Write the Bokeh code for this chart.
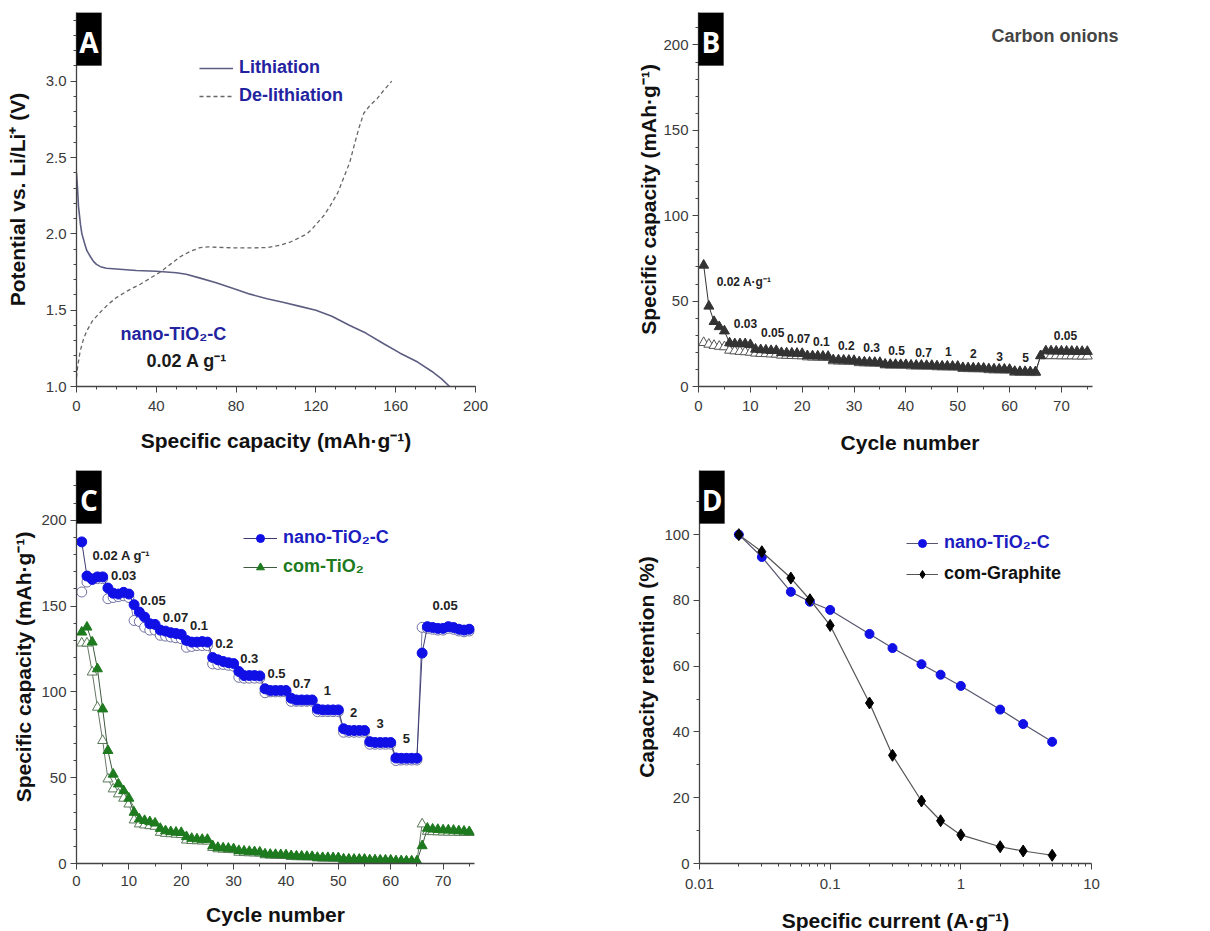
from bokeh.plotting import figure
from bokeh.layouts import column, row
from bokeh.models import (Range1d, SingleIntervalTicker, FixedTicker, NumeralTickFormatter,
                          CustomJSTickFormatter, Label, BoxAnnotation, Legend, LegendItem)
from bokeh.core.properties import value
from bokeh.embed import file_html
from bokeh.resources import INLINE
import math

FONT = "Liberation Sans"

# ---------------- Panel A: voltage profiles ----------------
li_cap = [0, 0.5, 1, 2, 2.7, 4, 5.2, 7, 8.5, 10, 12, 15, 20, 25, 30, 40, 50, 55, 62, 70, 79, 87,
          95.5, 104, 112, 120, 128, 137, 145, 154, 162, 171, 178, 183, 187]
li_v = [2.40, 2.30, 2.18, 2.06, 2.00, 1.94, 1.89, 1.85, 1.82, 1.80, 1.785, 1.775, 1.77, 1.765, 1.76,
        1.755, 1.745, 1.735, 1.71, 1.68, 1.64, 1.605, 1.575, 1.55, 1.525, 1.50, 1.46, 1.40, 1.35,
        1.28, 1.22, 1.16, 1.10, 1.05, 1.0]
de_cap = [0, 0.5, 1.8, 3.5, 5.2, 8, 11.9, 16, 20.2, 26, 32, 37, 42, 47, 52, 57, 62, 66, 70.4, 78.8,
          87, 95.5, 102, 107, 111, 115.5, 118, 120.6, 124, 127, 131, 134, 137, 139, 141.5, 144, 147,
          150.7, 154, 158]
de_v = [1.06, 1.12, 1.23, 1.31, 1.365, 1.43, 1.486, 1.54, 1.584, 1.63, 1.67, 1.71, 1.75, 1.80, 1.85,
        1.885, 1.91, 1.915, 1.912, 1.908, 1.908, 1.91, 1.925, 1.945, 1.97, 2.0, 2.03, 2.07, 2.12,
        2.18, 2.27, 2.37, 2.47, 2.57, 2.69, 2.79, 2.84, 2.886, 2.94, 3.0]

# ---------------- Panel B: carbon onions rate test ----------------
cycles = list(range(1, 76))
b_dis = [71, 47, 38, 35, 32.5,
         25.5, 25, 25, 25, 24.5,
         21.8, 21.5, 21.3, 21, 21,
         19.8, 19.6, 19.5, 19.4, 19.3,
         18, 17.9, 17.8, 17.7, 17.6,
         15.6, 15.5, 15.4, 15.3, 15.2,
         14.4, 14.3, 14.2, 14.1, 14,
         13, 12.9, 12.9, 12.8, 12.8,
         12.5, 12.4, 12.4, 12.3, 12.3,
         12, 11.9, 11.9, 11.8, 11.8,
         11, 10.9, 10.8, 10.8, 10.7,
         10.3, 10.2, 10.1, 10.1, 10,
         8.8, 8.7, 8.7, 8.6, 8.6,
         18, 20.8, 20.8, 20.7, 20.7, 20.6, 20.6, 20.5, 20.5, 20.5]
b_cha = [25.7, 24.7, 24, 23.5, 23.2,
         21.2, 20.8, 20.5, 20.3, 20.0,
         19.5, 19.3, 19.2, 19.0, 18.9,
         18.3, 18.2, 18.1, 18.0, 17.9,
         17.3, 17.2, 17.1, 17.0, 16.9,
         15.0, 14.9, 14.8, 14.7, 14.6,
         13.9, 13.8, 13.7, 13.6, 13.5,
         12.6, 12.5, 12.5, 12.4, 12.4,
         12.0, 12.0, 11.9, 11.9, 11.8,
         11.5, 11.5, 11.4, 11.4, 11.3,
         10.5, 10.4, 10.4, 10.3, 10.3,
         9.8, 9.7, 9.7, 9.6, 9.6,
         8.3, 8.2, 8.2, 8.1, 8.1,
         18.0, 18.0, 18.0, 18.0, 17.9, 17.9, 17.9, 17.8, 17.8, 17.8]
b_rate_text = ["0.03", "0.05", "0.07", "0.1", "0.2", "0.3", "0.5", "0.7", "1", "2", "3", "5", "0.05"]
b_rate_x = [9.07, 14.3, 19.3, 23.7, 28.5, 33.4, 38.2, 43.4, 48.2, 53.0, 58.1, 63.1, 70.8]
b_rate_y = [36.9, 31.6, 28.1, 26.3, 24.0, 22.8, 21.1, 19.9, 20.5, 19.3, 17.6, 17.0, 29.9]

# ---------------- Panel C: nano-TiO2-C vs com-TiO2 ----------------
c_nano_dis = [187.4,
              167.5, 165.5, 167, 167,
              160.5, 157.5, 157, 158, 157,
              150.8, 146.5, 143.6, 139.7, 139.3,
              136, 135.4, 134.5, 134, 133.5,
              130, 129, 129, 129.3, 129,
              120, 118.7, 117.7, 117, 116.5,
              111.9, 109.5, 109.5, 109.5, 109.3,
              101.8, 100.8, 100.8, 100.8, 100.8,
              96.3, 95.3, 95.3, 95.3, 95.3,
              90, 89.5, 89.5, 89.5, 89.5,
              78.5, 77.5, 77.5, 77.5, 77.5,
              71, 70.5, 70.5, 70.5, 70.5,
              61.5, 61.3, 61.3, 61.3, 61.3,
              122.6,
              138, 137.5, 137, 137, 138, 137.5, 136.5, 136, 136.5]
c_nano_cha = [158.2,
              164, 166, 166, 166,
              154.3, 155, 155.5, 156, 155,
              141.6, 141, 137.7, 136, 136,
              133, 132.5, 132, 131.5, 131,
              126, 126.5, 127, 127, 127,
              116.3, 116, 116, 115.5, 115,
              108.5, 108, 108, 108, 108,
              99.5, 100, 100, 100, 100,
              94.5, 94.5, 94.5, 94.5, 94.5,
              88.5, 88.5, 88.5, 88.5, 88.5,
              76.5, 76.5, 76.5, 76.5, 76.5,
              69.5, 69.5, 69.5, 69.5, 69.5,
              60, 60.3, 60.3, 60.3, 60.3,
              137.6,
              137, 136.5, 136, 136, 137, 136.5, 135.5, 135, 135.5]
c_com_dis = [134.8, 137.7, 129, 113.4, 90, 65.8, 52, 46.3, 42.4, 38,
             29.8, 25.9, 25, 24.3, 23.5,
             20.4, 19, 18.5, 18.2, 18,
             15.6, 14.6, 14.3, 14, 14,
             10.3, 9.3, 9, 8.8, 8.5,
             7.5, 7.2, 7, 6.8, 6.6,
             5.5, 5.3, 5.2, 5.1, 5,
             4.5, 4.3, 4.2, 4.1, 4,
             3.5, 3.4, 3.4, 3.3, 3.3,
             2.5, 2.5, 2.4, 2.4, 2.4,
             2, 2, 1.9, 1.9, 1.9,
             1.5, 1.5, 1.4, 1.4, 1.4,
             10.3,
             20.5, 20, 19.8, 19.5, 19.5, 19.3, 19, 18.8, 18.5]
c_com_cha = [128.4, 128.4, 111.5, 91, 71.6, 49.2, 43.4, 40.5, 38, 34.6,
             25.3, 23, 22.4, 22, 21.6,
             18.1, 17.5, 17.3, 17, 16.8,
             13.6, 13.3, 13.2, 13.1, 13,
             9.3, 8.5, 8.3, 8.1, 8,
             6.5, 6.3, 6.2, 6.1, 6,
             5, 4.8, 4.7, 4.6, 4.6,
             4, 3.9, 3.9, 3.8, 3.8,
             3.2, 3.1, 3.1, 3, 3,
             2.3, 2.2, 2.2, 2.1, 2.1,
             1.8, 1.7, 1.7, 1.7, 1.6,
             1.2, 1.2, 1.1, 1.1, 1.1,
             23,
             18.7, 18.5, 18.4, 18.3, 18.2, 18.2, 18.1, 18, 18]
c_rate_text = ["0.03", "0.05", "0.07", "0.1", "0.2", "0.3", "0.5", "0.7", "1", "2", "3", "5", "0.05"]
c_rate_x = [9.0, 14.6, 18.9, 23.4, 28.2, 33.0, 38.2, 43.0, 47.9, 52.9, 58.0, 63.0, 70.4]
c_rate_y = [168, 153.4, 143.4, 138.8, 128.3, 119.5, 110.8, 105, 100.9, 88, 81.6, 72.9, 150.4]

# ---------------- Panel D: capacity retention ----------------
d_current = [0.02, 0.03, 0.05, 0.07, 0.1, 0.2, 0.3, 0.5, 0.7, 1, 2, 3, 5]
d_nano = [100, 93.2, 82.6, 79.6, 77.1, 69.8, 65.5, 60.6, 57.4, 54, 46.8, 42.4, 37]
d_graphite = [100, 94.8, 86.8, 80.2, 72.4, 48.8, 32.9, 19, 13, 8.7, 5.1, 3.8, 2.5]

BLUE = "#1010e6"
GREEN = "#1e7a1e"
AX = "#444444"


def style(p):
    p.outline_line_color = None
    p.xgrid.visible = False
    p.ygrid.visible = False
    p.background_fill_color = "white"
    p.border_fill_color = "white"
    for ax in p.axis:
        ax.axis_line_color = AX
        ax.axis_line_width = 1.3
        ax.major_tick_line_color = AX
        ax.minor_tick_line_color = AX
        ax.major_tick_out = 6
        ax.major_tick_in = 0
        ax.minor_tick_out = 3
        ax.minor_tick_in = 0
        ax.major_label_text_font = FONT
        ax.major_label_text_font_size = "15px"
        ax.major_label_text_color = "#3a3a3a"
        ax.axis_label_text_font = FONT
        ax.axis_label_text_font_size = "21px"
        ax.axis_label_text_font_style = "bold"
        ax.axis_label_text_color = "#111111"
        ax.major_label_standoff = 4


def panel_box(p, letter, x0, x1, y1, y_span, frame_w, frame_h, log=False):
    # black letter box in the top-left corner: 25px wide, 53px tall
    if log:
        lx0, lx1 = math.log10(x0), math.log10(x1)
        right = 10 ** (lx0 + 25.0 / frame_w * (lx1 - lx0))
        left = 10 ** (lx0 - 1.5 / frame_w * (lx1 - lx0))
        cx = 10 ** (lx0 + 12.5 / frame_w * (lx1 - lx0))
    else:
        right = x0 + 25.0 / frame_w * (x1 - x0)
        left = x0 - 1.5 / frame_w * (x1 - x0)
        cx = x0 + 12.5 / frame_w * (x1 - x0)
    bottom = y1 - 53.0 / frame_h * y_span
    p.add_layout(BoxAnnotation(left=left, right=right, top=y1, bottom=bottom,
                               fill_color="black", fill_alpha=1, line_color="black", level="overlay"))
    p.add_layout(Label(x=cx, y=y1 - 29.0 / frame_h * y_span, text=letter, text_color="white",
                       text_font="Open Sans", text_font_style="bold", text_font_size="28px",
                       text_align="center", text_baseline="middle", level="overlay"))


def one_legend(label, renderers, loc, color, gw=34):
    return Legend(items=[LegendItem(label=label, renderers=renderers)], location=loc,
                  padding=0, margin=0, border_line_color=None, background_fill_alpha=0,
                  label_text_font=FONT, label_text_font_size="18px", label_text_font_style="bold",
                  label_text_color=color, glyph_width=gw, glyph_height=20, label_height=20,
                  label_standoff=6)


# ================= Figure A =================
fwA, fhA = 399, 374
pA = figure(frame_width=fwA, frame_height=fhA, min_border_left=76, min_border_right=125,
            min_border_top=12, min_border_bottom=74,
            x_range=Range1d(0, 200), y_range=Range1d(1.0, 3.45),
            output_backend="svg", toolbar_location=None)
rA1 = pA.line(li_cap, li_v, line_color="#5d5d82", line_width=1.6)
rA2 = pA.line(de_cap, de_v, line_color="#666666", line_width=1.3, line_dash="4 3")
style(pA)
pA.xaxis.ticker = SingleIntervalTicker(interval=40, num_minor_ticks=4)
pA.yaxis.ticker = SingleIntervalTicker(interval=0.5, num_minor_ticks=5)
pA.yaxis.formatter = NumeralTickFormatter(format="0.0")
pA.xaxis.axis_label = "Specific capacity (mAh·g⁻¹)"
pA.yaxis.axis_label = "Potential vs. Li/Li⁺ (V)"
pA.yaxis.axis_label_standoff = 14
pA.xaxis.major_label_standoff = 8
pA.xaxis.axis_label_standoff = 15
legA = Legend(items=[LegendItem(label="Lithiation", renderers=[rA1]),
                     LegendItem(label="De-lithiation", renderers=[rA2])],
              location=(123, 280), padding=0, margin=0, spacing=7, border_line_color=None,
              background_fill_alpha=0, label_text_font=FONT, label_text_font_size="18px",
              label_text_font_style="bold", label_text_color="#2323a0", glyph_width=34,
              glyph_height=20, label_height=20, label_standoff=6)
pA.add_layout(legA)
pA.add_layout(Label(x=22.05, y=1.347, text="nano-TiO₂-C", text_color="#2323a0", text_font=FONT,
                    text_font_style="bold", text_font_size="18px", text_baseline="middle"))
pA.add_layout(Label(x=35.1, y=1.17, text="0.02 A g⁻¹", text_color="#1a1a1a", text_font=FONT,
                    text_font_style="bold", text_font_size="18px", text_baseline="middle"))
panel_box(pA, "A", 0, 200, 3.45, 2.45, fwA, fhA)

# ================= Figure B =================
fwB, fhB = 423, 374
xB_end = 76 * fwB / 394.0
pB = figure(frame_width=fwB, frame_height=fhB, min_border_left=98, min_border_right=84,
            min_border_top=12, min_border_bottom=74,
            x_range=Range1d(0, xB_end), y_range=Range1d(0, 219),
            output_backend="svg", toolbar_location=None)
pB.line(cycles, b_cha, line_color="#777777", line_width=1)
pB.scatter(cycles, b_cha, marker="triangle", size=10, fill_color="white", line_color="#555555",
           line_width=1)
pB.line(cycles, b_dis, line_color="#333333", line_width=1)
pB.scatter(cycles, b_dis, marker="triangle", size=10, fill_color="#333333", line_color="#333333")
style(pB)
pB.xaxis.bounds = (0, 76)
pB.xaxis.ticker = SingleIntervalTicker(interval=10, num_minor_ticks=2)
pB.yaxis.ticker = SingleIntervalTicker(interval=50, num_minor_ticks=5)
pB.xaxis.axis_label = "Cycle number"
pB.yaxis.axis_label = "Specific capacity (mAh·g⁻¹)"
pB.yaxis.axis_label_standoff = 0
pB.xaxis.major_label_standoff = 8
pB.xaxis.axis_label_standoff = 17
pB.text(b_rate_x, b_rate_y, text=b_rate_text, text_font=value(FONT), text_font_style="bold",
        text_font_size="12px", text_color="#222222", text_align="center", text_baseline="middle")
pB.add_layout(Label(x=3.5, y=60.9, text="0.02 A·g⁻¹", text_color="#222222", text_font=FONT,
                    text_font_style="bold", text_font_size="12px", text_baseline="middle"))
pB.add_layout(Label(x=81.0, y=205.5, text="Carbon onions", text_color="#444444", text_font=FONT,
                    text_font_style="bold", text_font_size="18px", text_align="right",
                    text_baseline="middle"))
panel_box(pB, "B", 0, xB_end, 219, 219, fwB, fhB)

# ================= Figure C =================
fwC, fhC = 398, 393
pC = figure(frame_width=fwC, frame_height=fhC, min_border_left=76, min_border_right=126,
            min_border_top=10, min_border_bottom=62,
            x_range=Range1d(0, 76), y_range=Range1d(0, 229),
            output_backend="svg", toolbar_location=None)
pC.line(cycles, c_com_cha, line_color="#667766", line_width=1)
pC.scatter(cycles, c_com_cha, marker="triangle", size=10, fill_color="white", line_color="#5a7a5a")
rCg_l = pC.line(cycles, c_com_dis, line_color="#3f5a3f", line_width=1)
rCg_s = pC.scatter(cycles, c_com_dis, marker="triangle", size=10, fill_color=GREEN, line_color=GREEN)
pC.line(cycles, c_nano_cha, line_color="#8080a8", line_width=1)
pC.scatter(cycles, c_nano_cha, marker="circle", size=10, fill_color="white", line_color="#7070a0")
rCb_l = pC.line(cycles, c_nano_dis, line_color="#3a3a70", line_width=1)
rCb_s = pC.scatter(cycles, c_nano_dis, marker="circle", size=10, fill_color=BLUE, line_color=BLUE)
style(pC)
pC.xaxis.ticker = SingleIntervalTicker(interval=10, num_minor_ticks=2)
pC.yaxis.ticker = SingleIntervalTicker(interval=50, num_minor_ticks=5)
pC.xaxis.axis_label = "Cycle number"
pC.yaxis.axis_label = "Specific capacity (mAh·g⁻¹)"
pC.yaxis.axis_label_standoff = 3
pC.xaxis.major_label_standoff = 6
pC.xaxis.axis_label_standoff = 14
pC.text(c_rate_x, c_rate_y, text=c_rate_text, text_font=value(FONT), text_font_style="bold",
        text_font_size="13px", text_color="#222222", text_align="center", text_baseline="middle")
pC.add_layout(Label(x=3.05, y=179.6, text="0.02 A g⁻¹", text_color="#222222", text_font=FONT,
                    text_font_style="bold", text_font_size="13px", text_baseline="middle"))
pC.add_layout(one_legend("nano-TiO₂-C", [rCb_l, rCb_s], (167, 315), "#1c1cc0"))
pC.add_layout(one_legend("com-TiO₂", [rCg_l, rCg_s], (167, 286), GREEN))
panel_box(pC, "C", 0, 76, 229, 229, fwC, fhC)

# ================= Figure D =================
fwD, fhD = 392, 393
pD = figure(frame_width=fwD, frame_height=fhD, min_border_left=99, min_border_right=114,
            min_border_top=10, min_border_bottom=62, x_axis_type="log",
            x_range=Range1d(0.01, 10), y_range=Range1d(0, 119.5),
            output_backend="svg", toolbar_location=None)
rDb_l = pD.line(d_current, d_nano, line_color="#555570", line_width=1.2)
rDb_s = pD.scatter(d_current, d_nano, marker="circle", size=9, fill_color=BLUE, line_color=BLUE)
rDk_l = pD.line(d_current, d_graphite, line_color="#555555", line_width=1.2)
rDk_s = pD.scatter(d_current, d_graphite, marker="diamond", size=12, fill_color="black",
                   line_color="black")
style(pD)
minor_log = [m * 10 ** e for e in (-2, -1, 0) for m in range(2, 10)]
pD.xaxis.ticker = FixedTicker(ticks=[0.01, 0.1, 1, 10], minor_ticks=minor_log)
pD.xaxis.formatter = CustomJSTickFormatter(code="return tick.toString();")
pD.yaxis.ticker = SingleIntervalTicker(interval=20, num_minor_ticks=2)
pD.xaxis.axis_label = "Specific current (A·g⁻¹)"
pD.yaxis.axis_label = "Capacity retention (%)"
pD.yaxis.axis_label_standoff = 3
pD.xaxis.major_label_standoff = 9
pD.xaxis.axis_label_standoff = 17
pD.add_layout(one_legend("nano-TiO₂-C", [rDb_l, rDb_s], (207, 310), "#1c1cc0", gw=32))
pD.add_layout(one_legend("com-Graphite", [rDk_l, rDk_s], (207, 279), "#111111", gw=32))
panel_box(pD, "D", 0.01, 10, 119.5, 119.5, fwD, fhD, log=True)

layout = column(row(pA, pB), row(pC, pD))
open("out.html", "w").write(file_html(layout, INLINE))
